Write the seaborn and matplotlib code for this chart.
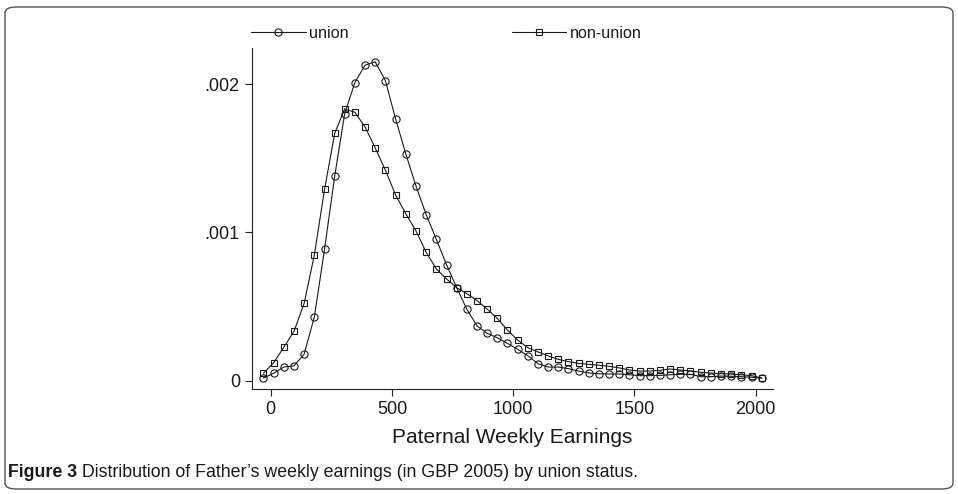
import matplotlib
matplotlib.use("Agg")
import matplotlib.pyplot as plt
import seaborn as sns
import pandas as pd
from matplotlib.patches import FancyBboxPatch

# ---- data ----
earnings = [-30, 12, 54, 96, 138, 180, 222, 264, 305, 347, 389, 431, 473, 515,
            557, 599, 641, 683, 725, 767, 809, 851, 892, 934, 976, 1018, 1060,
            1102, 1144, 1186, 1228, 1270, 1312, 1354, 1396, 1438, 1479, 1521,
            1563, 1605, 1647, 1689, 1731, 1773, 1815, 1857, 1899, 1941, 1983, 2025]

union = [0.000018, 0.000050, 0.000092, 0.000100, 0.000180, 0.000430, 0.000886,
         0.001380, 0.001800, 0.002010, 0.002127, 0.002150, 0.002023, 0.001765,
         0.001529, 0.001313, 0.001120, 0.000953, 0.000782, 0.000627, 0.000481,
         0.000369, 0.000320, 0.000290, 0.000252, 0.000212, 0.000169, 0.000115,
         0.000092, 0.000092, 0.000081, 0.000065, 0.000052, 0.000047, 0.000045,
         0.000045, 0.000040, 0.000034, 0.000034, 0.000036, 0.000040, 0.000043,
         0.000043, 0.000027, 0.000027, 0.000031, 0.000030, 0.000027, 0.000023,
         0.000018]

non_union = [0.000050, 0.000121, 0.000225, 0.000333, 0.000522, 0.000848, 0.001290,
             0.001668, 0.001832, 0.001810, 0.001711, 0.001569, 0.001419, 0.001252,
             0.001126, 0.001010, 0.000866, 0.000753, 0.000686, 0.000627, 0.000587,
             0.000540, 0.000483, 0.000421, 0.000342, 0.000274, 0.000223, 0.000194,
             0.000167, 0.000144, 0.000128, 0.000117, 0.000110, 0.000104, 0.000097,
             0.000086, 0.000072, 0.000065, 0.000065, 0.000070, 0.000079, 0.000072,
             0.000065, 0.000057, 0.000052, 0.000047, 0.000045, 0.000040, 0.000034,
             0.000018]

series_names = ["union", "non-union"]
x_ticks = [0, 500, 1000, 1500, 2000]
x_tick_labels = ["0", "500", "1000", "1500", "2000"]
y_ticks = [0, 0.001, 0.002]
y_tick_labels = ["0", ".001", ".002"]
x_title = "Paternal Weekly Earnings"
caption_bold = "Figure 3"
caption_rest = " Distribution of Father\u2019s weekly earnings (in GBP 2005) by union status."

# ---- styling ----
sns.set_style("ticks")
plt.rcParams["font.family"] = ["Liberation Sans", "DejaVu Sans"]

W, H = 958, 494
fig = plt.figure(figsize=(W / 100, H / 100), dpi=100)
fig.patch.set_facecolor("white")

left_px, right_px, top_px, bottom_px = 251.7, 773.3, 48, 389.3
ax = fig.add_axes([left_px / W, 1 - bottom_px / H,
                   (right_px - left_px) / W, (bottom_px - top_px) / H])

df_u = pd.DataFrame({"x": earnings, "y": union})
df_n = pd.DataFrame({"x": earnings, "y": non_union})

line_kw = dict(color="#1a1a1a", linewidth=0.8, markerfacecolor="none",
               markeredgecolor="#1a1a1a", markeredgewidth=0.8)
sns.lineplot(data=df_u, x="x", y="y", ax=ax, marker="o", markersize=5.2,
             label=series_names[0], **line_kw)
sns.lineplot(data=df_n, x="x", y="y", ax=ax, marker="s", markersize=5.0,
             label=series_names[1], **line_kw)

ax.set_xlim(-78.4, 2072.6)
ax.set_ylim(-0.000058, 0.002243)
ax.set_xticks(x_ticks)
ax.set_xticklabels(x_tick_labels)
ax.set_yticks(y_ticks)
ax.set_yticklabels(y_tick_labels)
ax.tick_params(axis="both", direction="out", length=5, width=0.8,
               color="#222222", labelsize=13, labelcolor="#1a1a1a", pad=3.5)
ax.set_xlabel(x_title, fontsize=15, color="#1a1a1a", labelpad=7)
ax.set_ylabel("")
for s in ["top", "right"]:
    ax.spines[s].set_visible(False)
for s in ["left", "bottom"]:
    ax.spines[s].set_linewidth(0.8)
    ax.spines[s].set_color("#222222")

# legend across the top
handles, labels = ax.get_legend_handles_labels()
if ax.legend_:
    ax.legend_.remove()
leg = fig.legend(handles, labels, ncol=2, frameon=False, fontsize=11.6,
                 loc="center left", bbox_to_anchor=(251 / W, 1 - 33 / H),
                 handlelength=3.41, handletextpad=0.2, columnspacing=10.1,
                 borderaxespad=0, borderpad=0)
for t in leg.get_texts():
    t.set_color("#1a1a1a")

# caption
cap_family = ["Liberation Sans Narrow", "Liberation Sans", "DejaVu Sans"]
t1 = fig.text(8 / W, 1 - 472 / H, caption_bold, fontsize=12.8, fontweight="bold",
              family=cap_family, va="center", ha="left", color="#1a1a1a")
fig.text(0, 0, "")
plt.annotate(caption_rest, xy=(1, 0.5), xycoords=t1, va="center", ha="left",
             fontsize=12.8, family=cap_family, color="#1a1a1a",
             annotation_clip=False)

# rounded frame around the figure
frame = FancyBboxPatch((5 / W, 1 - 489 / H), (948) / W, (482) / H,
                       boxstyle="round,pad=0,rounding_size=0.012",
                       transform=fig.transFigure, facecolor="none",
                       edgecolor="#555555", linewidth=1.0)
fig.patches.append(frame)

fig.savefig("out.png", dpi=100, facecolor="white")
